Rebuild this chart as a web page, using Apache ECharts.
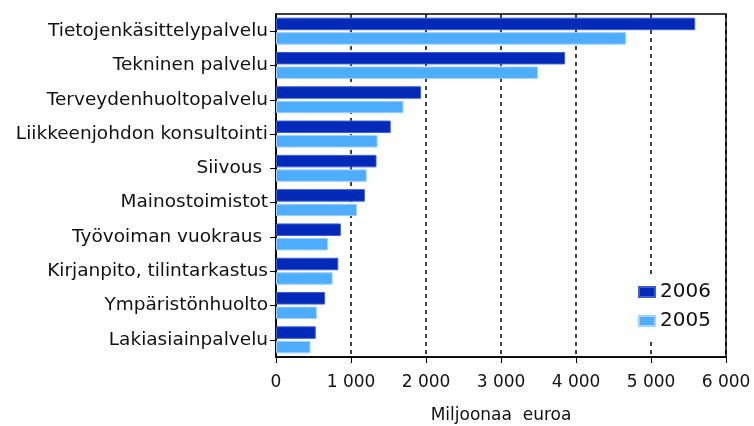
<!DOCTYPE html>
<html>
<head>
<meta charset="utf-8">
<script src="https://cdn.jsdelivr.net/npm/echarts@6/dist/echarts.min.js"></script>
<style>
  html, body { margin: 0; padding: 0; background: #fff; }
  #chart { width: 754px; height: 426px; }
</style>
</head>
<body>
<div id="chart"></div>
<script>
    let categories = ['Tietojenkäsittelypalvelu', 'Tekninen palvelu', 'Terveydenhuoltopalvelu',
        'Liikkeenjohdon konsultointi', 'Siivous ', 'Mainostoimistot', 'Työvoiman vuokraus ',
        'Kirjanpito, tilintarkastus', 'Ympäristönhuolto', 'Lakiasiainpalvelu'];
    let values2006 = [5590, 3855, 1935, 1530, 1340, 1185, 865, 830, 655, 530];
    let values2005 = [4670, 3495, 1700, 1355, 1210, 1080, 695, 755, 545, 460];
    let xTicks = [0, 1000, 2000, 3000, 4000, 5000, 6000];

    let font = 'DejaVu Sans';
    let chart = echarts.init(document.getElementById('chart'));

    chart.setOption({
        animation: false,
        grid: {
            left: 276,
            right: 28,
            top: 14,
            bottom: 69,
            outerBoundsMode: 'none',
            show: true,
            borderColor: '#000',
            borderWidth: 1.5
        },
        legend: {
            orient: 'vertical',
            left: 632,
            top: 278,
            backgroundColor: '#fff',
            padding: [4, 8, 8, 6],
            itemWidth: 16,
            itemHeight: 10,
            itemGap: 9,
            icon: 'rect',
            textStyle: { fontFamily: font, fontSize: 20, color: '#111' },
            data: ['2006', '2005']
        },
        xAxis: {
            type: 'value',
            min: xTicks[0],
            max: xTicks[xTicks.length - 1],
            interval: 1000,
            name: 'Miljoonaa  euroa',
            nameLocation: 'middle',
            nameGap: 50,
            nameTextStyle: { fontFamily: font, fontSize: 17, color: '#111' },
            axisLine: { show: true, lineStyle: { color: '#000', width: 1.5 } },
            axisTick: { show: true, length: 6, lineStyle: { color: '#000' } },
            axisLabel: {
                fontFamily: font,
                fontSize: 17,
                color: '#111',
                margin: 17,
                formatter: function (v) {
                    return String(v).replace(/\B(?=(\d{3})+(?!\d))/g, ' ');
                }
            },
            splitLine: {
                show: true,
                lineStyle: { color: '#000', type: [4, 4], width: 1.5 }
            }
        },
        yAxis: {
            type: 'category',
            inverse: true,
            data: categories,
            axisLine: { show: true, lineStyle: { color: '#000', width: 1.5 } },
            axisTick: { show: true, alignWithLabel: true, length: 6, lineStyle: { color: '#000' } },
            axisLabel: { fontFamily: font, fontSize: 18.5, color: '#111', margin: 8 }
        },
        series: [
            {
                name: '2006',
                type: 'bar',
                data: values2006,
                barWidth: 12.5,
                barGap: '16%',
                itemStyle: { color: '#0229b8', borderColor: '#3b5fd6', borderWidth: 1 }
            },
            {
                name: '2005',
                type: 'bar',
                data: values2005,
                barWidth: 12.5,
                barGap: '16%',
                itemStyle: { color: '#4fadff', borderColor: '#9fd2ff', borderWidth: 1 }
            }
        ]
    });
</script>
</body>
</html>
